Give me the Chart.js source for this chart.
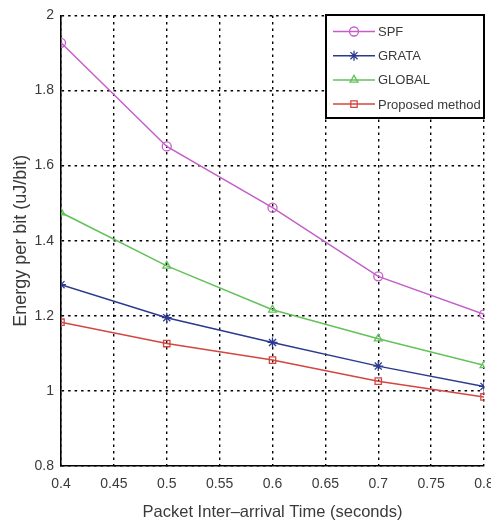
<!DOCTYPE html>
<html>
<head>
<meta charset="utf-8">
<script src="https://cdn.jsdelivr.net/npm/chart.js@4/dist/chart.umd.min.js"></script>
<style>
  html, body { margin: 0; padding: 0; background: #fff; overflow: hidden; }
  #wrap { width: 510px; height: 525px; }
</style>
</head>
<body>
<div id="wrap"><canvas id="chart" width="510" height="525"></canvas></div>
<script>
const interArrival = [0.4, 0.5, 0.6, 0.7, 0.8];
const spf      = [1.927, 1.651, 1.488, 1.305, 1.204];
const grata    = [1.283, 1.195, 1.129, 1.066, 1.012];
const global_  = [1.475, 1.333, 1.216, 1.139, 1.068];
const proposed = [1.183, 1.126, 1.082, 1.026, 0.984];

const FONT = "'Liberation Sans', Arial, sans-serif";
const TEXT = '#3a3a3a';

function pts(vals) {
  return vals.map((v, i) => ({x: interArrival[i], y: v}));
}

function series(label, vals, color, style) {
  return {
    label: label,
    data: pts(vals),
    borderColor: color,
    borderWidth: 1.5,
    pointStyle: style,
    pointRadius: style === 'star' ? 5 : 4.5,
    pointBorderColor: color,
    pointBackgroundColor: 'rgba(0,0,0,0)',
    pointBorderWidth: 1.3,
    tension: 0,
    fill: false
  };
}

// boxed legend in the top right corner, drawn like the matlab one
const boxLegend = {
  id: 'boxLegend',
  afterDraw(chart) {
    const ctx = chart.ctx;
    const x0 = 326, y0 = 15, w = 158, h = 103;
    ctx.save();
    ctx.fillStyle = '#fff';
    ctx.fillRect(x0, y0, w, h);
    ctx.strokeStyle = '#000';
    ctx.lineWidth = 2;
    ctx.strokeRect(x0, y0, w, h);
    ctx.font = '13px ' + FONT;
    ctx.textBaseline = 'middle';
    chart.data.datasets.forEach((ds, i) => {
      const y = 31.5 + i * 24.2;
      ctx.strokeStyle = ds.borderColor;
      ctx.lineWidth = 1.5;
      ctx.beginPath();
      ctx.moveTo(333, y);
      ctx.lineTo(375, y);
      ctx.stroke();
      ctx.lineWidth = ds.pointBorderWidth;
      ctx.fillStyle = 'rgba(0,0,0,0)';
      Chart.helpers.drawPoint(ctx, {
        pointStyle: ds.pointStyle, radius: ds.pointRadius, rotation: 0, borderWidth: ds.pointBorderWidth
      }, 354, y);
      ctx.fillStyle = TEXT;
      ctx.fillText(ds.label, 378, y + 1);
    });
    ctx.restore();
  }
};

const gridStyle = {
  color: '#000',
  lineWidth: 1.4,
  drawTicks: false
};
// in v4 the dash of the grid lines lives under border
const borderStyle = { display: true, color: '#000', width: 1.6, dash: [2.5, 4] };

new Chart(document.getElementById('chart'), {
  type: 'line',
  data: {
    datasets: [
      series('SPF', spf, '#c45ec8', 'circle'),
      series('GRATA', grata, '#2c3a8e', 'star'),
      series('GLOBAL', global_, '#62c25a', 'triangle'),
      series('Proposed method', proposed, '#d4463f', 'rect')
    ]
  },
  options: {
    responsive: false,
    animation: false,
    layout: { padding: { top: 15, right: 26, left: 0, bottom: 0 } },
    plugins: {
      legend: { display: false },
      tooltip: { enabled: false }
    },
    scales: {
      x: {
        type: 'linear',
        min: 0.4,
        max: 0.8,
        ticks: {
          stepSize: 0.05,
          padding: 10,
          color: TEXT,
          font: { family: FONT, size: 14 },
          maxRotation: 0,
          callback: v => String(Number(v.toFixed(2)))
        },
        grid: gridStyle,
        border: borderStyle,
        title: {
          display: true,
          text: 'Packet Inter\u2013arrival Time (seconds)',
          color: TEXT,
          font: { family: FONT, size: 16.5 },
          padding: { top: 0, bottom: 3 }
        },
        afterFit(scale) { scale.height = 59; }
      },
      y: {
        min: 0.8,
        max: 2,
        ticks: {
          stepSize: 0.2,
          padding: 7,
          color: TEXT,
          font: { family: FONT, size: 14 },
          callback: v => String(Number(v.toFixed(1)))
        },
        grid: gridStyle,
        border: borderStyle,
        title: {
          display: true,
          text: 'Energy per bit (uJ/bit)',
          color: TEXT,
          font: { family: FONT, size: 18 },
          padding: { top: 10, bottom: 0 }
        },
        afterFit(scale) { scale.width = 61; }
      }
    }
  },
  plugins: [boxLegend]
});
</script>
</body>
</html>
